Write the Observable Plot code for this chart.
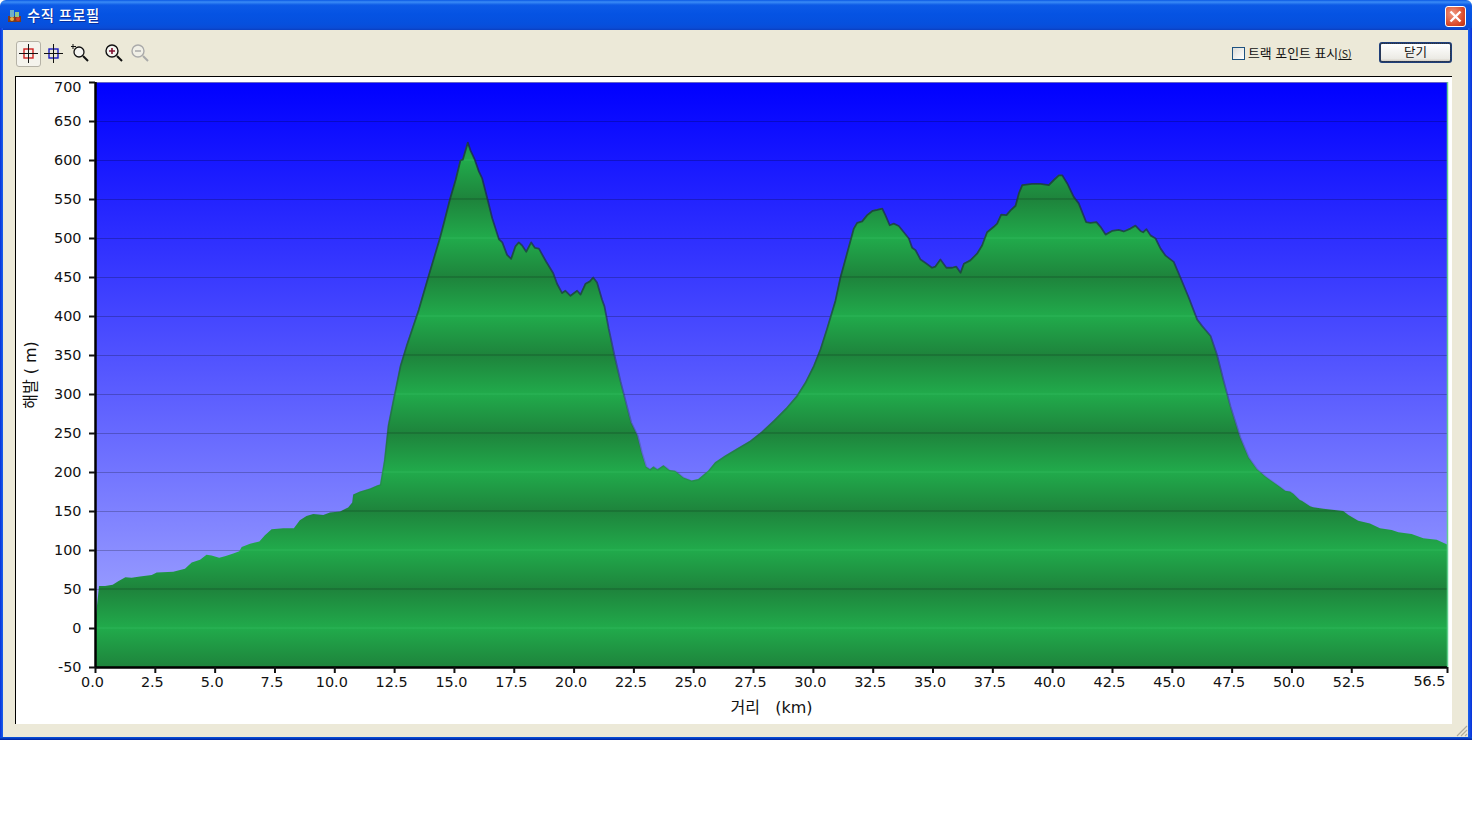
<!DOCTYPE html>
<html lang="ko">
<head>
<meta charset="utf-8">
<title>수직 프로필</title>
<script src="https://cdn.jsdelivr.net/npm/d3@7"></script>
<script src="https://cdn.jsdelivr.net/npm/@observablehq/plot@0.6"></script>
<style>
html,body{margin:0;padding:0;background:#fff;overflow:hidden}
#win{position:absolute;left:0;top:0;width:1472px;height:740px;background:#ece9d8;font-family:"Noto Sans CJK KR",sans-serif;overflow:hidden;border-radius:6px 6px 0 0}
#edgeL,#edgeR,#edgeB{position:absolute;background:#0a4fe0}
#edgeL{left:0;top:28px;width:3px;height:712px;background:linear-gradient(90deg,#0831d9,#1a62ec)}
#edgeR{left:1468px;top:28px;width:4px;height:712px;background:linear-gradient(90deg,#1a62ec,#0831d9)}
#edgeB{left:0;top:737px;width:1472px;height:3px;background:linear-gradient(180deg,#0a55e0,#00209c)}
#bar{position:absolute;left:0;top:0;width:1472px;height:30px;background:linear-gradient(180deg,#0a58e4 0,#3a8cf6 2px,#0c5ae6 5px,#0553e3 14px,#0650de 24px,#0a4cd6 28px,#0a3fc0 30px)}
#ttl{position:absolute;left:27px;top:6px;color:#fff;font-size:14.4px;line-height:18px;font-weight:500;letter-spacing:.4px;text-shadow:1px 1px 0 #0a2f9c;white-space:pre}
#appicon{position:absolute;left:7px;top:9px}
#close{position:absolute;left:1445px;top:6px;width:19px;height:19px;border:1px solid #fff;border-radius:3px;background:radial-gradient(circle at 35% 35%,#f09a80,#d9492a 65%,#b8300f)}
#close svg{position:absolute;left:2px;top:2px}
#tool1{position:absolute;left:16px;top:41px;width:23px;height:24px;border:1px solid #b5b2a6;border-radius:3px;background:#f4f3ec}
.ic{position:absolute}
#cb{position:absolute;left:1232px;top:47px;width:11px;height:11px;border:1px solid #1c5180;background:linear-gradient(135deg,#dcdcd7,#fff)}
#cbt{position:absolute;left:1248px;top:44px;font-size:12.9px;line-height:18px;color:#111;white-space:pre}
#cbt small{font-size:10.5px;text-decoration:underline}
#btn{position:absolute;left:1379px;top:42px;width:69px;height:17px;border:2px solid #1f3f7a;border-radius:3px;background:linear-gradient(180deg,#fff,#ecebe5 85%,#d6d0c5);font-size:12.5px;line-height:16px;text-align:center;color:#111;outline:1px dotted #333;outline-offset:-2px}
#panel{position:absolute;left:16px;top:77px;width:1436px;height:647px;background:#fff}
#lineT{position:absolute;left:15px;top:76px;width:1437px;height:1px;background:#000}
#lineL{position:absolute;left:15px;top:76px;width:1px;height:648px;background:#000}
#panel svg{display:block}
#grip{position:absolute;left:1455px;top:724px}
</style>
</head>
<body>
<div id="win">
  <div id="bar"></div>
  <svg id="appicon" width="15" height="14"><rect x="1" y="7" width="13" height="6" fill="#7a3b22"/><rect x="3" y="1" width="4" height="7" fill="#6fb0c8"/><rect x="8" y="3" width="4" height="5" fill="#8fc68a"/><circle cx="5" cy="10" r="2" fill="#e8b040"/><circle cx="11" cy="10" r="2" fill="#d83a2a"/></svg>
  <div id="ttl">수직 프로필</div>
  <div id="close"><svg width="15" height="15"><path d="M2.5 2.5L12.5 12.5M12.5 2.5L2.5 12.5" stroke="#fff" stroke-width="2.4"/></svg></div>
  <div id="edgeL"></div><div id="edgeR"></div><div id="edgeB"></div>
  <div id="tool1"></div>
  <svg class="ic" style="left:18px;top:43px" width="22" height="22"><rect x="6" y="6" width="9" height="9" fill="none" stroke="#d02020" stroke-width="1.4"/><path d="M10.5 1V20M1 10.500H20" stroke="#111" stroke-width="1"/></svg>
  <svg class="ic" style="left:43px;top:43px" width="22" height="22"><rect x="6" y="6" width="9" height="9" fill="none" stroke="#1a1ac0" stroke-width="1.4"/><path d="M10.5 1V20M1 10.500H20" stroke="#111" stroke-width="1"/></svg>
  <svg class="ic" style="left:70px;top:43px" width="22" height="22"><circle cx="9" cy="9" r="5" fill="#f4f4f0" stroke="#111" stroke-width="1.3"/><path d="M13 13L18 18" stroke="#111" stroke-width="2"/><path d="M3 1V6M1 3.500H6" stroke="#111" stroke-width="1"/></svg>
  <svg class="ic" style="left:103px;top:42px" width="22" height="22"><circle cx="9" cy="9" r="6" fill="#f4f4f0" stroke="#111" stroke-width="1.4"/><path d="M14 14L19 19" stroke="#111" stroke-width="2"/><path d="M9 6V12M6 9H12" stroke="#801030" stroke-width="1.6"/></svg>
  <svg class="ic" style="left:129px;top:42px" width="22" height="22"><circle cx="9" cy="9" r="6" fill="#f0efe6" stroke="#aaa" stroke-width="1.4"/><path d="M14 14L19 19" stroke="#aaa" stroke-width="2"/><path d="M6 9H12" stroke="#aaa" stroke-width="1.6"/></svg>
  <div id="cb"></div>
  <div id="cbt">트랙 포인트 표시<small>(S)</small></div>
  <div id="btn">닫기</div>
  <div id="panel"></div>
  <div id="lineT"></div><div id="lineL"></div>
  <svg id="grip" width="13" height="13"><path d="M12 2L2 12M12 6L6 12M12 10L10 12" stroke="#b0ac9c" stroke-width="1.2"/></svg>
</div>
<script>
// Distance along the track (km)
const distanceKm = [
0.04,0.17,0.42,0.74,0.97,1.27,1.53,1.88,2.37,2.58,3.27,3.76,4.04,4.39,4.66,4.87,5.19,5.43,5.78,6.03,6.13,6.48,6.87,7.10,7.38,7.87,8.31,8.56,8.84,9.12,9.54,9.82,10.24,10.58,10.75,10.79,11.07,11.49,11.80,
11.91,12.08,12.24,12.45,12.75,13.00,13.23,13.51,13.93,14.39,14.56,14.81,15.05,15.25,15.35,15.56,15.67,15.85,16.02,16.16,16.37,16.58,16.86,17.00,17.20,17.37,17.55,17.69,17.83,18.00,18.21,18.36,18.53,18.83,19.13,19.29,19.50,19.64,19.85,20.13,20.27,20.48,20.66,20.80,20.96,21.17,21.27,
21.45,21.69,21.94,22.15,22.39,22.66,22.84,23.02,23.19,23.33,23.50,23.75,24.00,24.24,24.59,24.93,25.21,25.63,25.91,26.33,26.82,27.37,27.86,28.35,28.90,29.32,29.67,30.02,30.30,30.57,30.92,
31.13,31.27,31.48,31.69,31.83,32.04,32.25,32.48,32.67,32.88,33.01,33.19,33.36,33.57,33.78,33.99,34.13,34.27,34.48,34.69,34.96,35.10,35.31,35.56,35.80,35.97,36.15,36.29,36.56,36.84,37.05,37.26,37.54,37.68,37.85,38.07,38.24,38.45,38.59,38.73,39.14,39.49,39.84,40.05,40.26,40.40,40.61,40.88,41.09,41.40,41.58,41.83,42.00,42.21,42.48,42.76,42.97,43.25,43.46,43.67,43.78,43.92,44.09,44.30,44.51,44.72,45.06,
45.34,45.69,46.04,46.25,46.60,46.87,47.15,47.43,47.85,48.20,48.55,48.90,49.31,49.52,49.74,49.94,50.08,50.35,50.43,50.78,50.91,51.33,52.16,52.38,52.79,53.28,53.70,54.19,54.47,55.02,55.51,56.07,56.46,56.50];
// Elevation at each distance (m)
const elevationM = [
16,54,54,55.5,60,65,64.5,66,68,71,72,76,84,87.5,94,93,90,92,95.5,98.5,104,108,111,119,126.5,128,128,138,143.5,146,145,148,149.5,154.5,161,171,175,179,183,
184,215,260,292,337,362,383,408.5,453,500,520,550,575,600,601,623,613,601,586,577,552,526,499,495,479,474,490,495,491,483,495,488,487,470.5,455.5,442,430,433,426.5,433,428,442,445,450,443.5,421.5,413,
384,350,317,292,264,247,225,207,203.5,207,203.5,208.5,202.5,201.5,193,189,191,202,212.5,221,230,240,252,266,283,298,315,336.5,358,384,420,
450,465.5,489,512.7,520,522,530,535.5,536.7,538.4,530,517,519,516,508,500,488,485,473,468.5,462.5,464,473,462.5,462.5,464,456,467.6,472,480.5,491,508,515,519,530.7,530,536,542,558,568.5,570,570,568.5,575,581,581,570.6,553.4,545,521,520,521,515,505,509.7,511,509,512.7,516.5,509.7,508,512,504,500,487,478,470,
450,424,396,387.6,375,351,317,285,244.5,219,204,194.5,185.5,181,176,175,172,164,163,156,154.7,153,150,145,137.6,134,128,125.6,122.6,120.5,115,113,107.7,107];

const yTicks = [-50,0,50,100,150,200,250,300,350,400,450,500,550,600,650,700];
const xTicks = [0,2.5,5,7.5,10,12.5,15,17.5,20,22.5,25,27.5,30,32.5,35,37.5,40,42.5,45,47.5,50,52.5,56.5];
const lastXTick = [56.5];
const topYTick = [700];
const xTitle = "거리\u00a0\u00a0\u00a0(km)";
const yTitle = "해발 ( m)";

const profile = distanceKm.map((d, i) => ({d, e: elevationM[i]}));

// Vertical paint servers, positioned through the plot's own y scale
function paints(index, {y}) {
  const defs = d3.create("svg:defs");
  const top = y(700), bot = y(-50);
  const grad = (id) => defs.append("linearGradient").attr("id", id)
    .attr("gradientUnits", "userSpaceOnUse").attr("x1", 0).attr("x2", 0).attr("y1", top).attr("y2", bot);
  const stop = (g, m, c, o = 1) => g.append("stop")
    .attr("offset", (y(m) - top) / (bot - top)).attr("stop-color", c).attr("stop-opacity", o);

  const bg = grad("sky");
  stop(bg, 700, "#0000ff"); stop(bg, -50, "#acb0ff");

  const g = grad("land");
  const light = "#21aa4b", dark = "#1e843c";
  for (const m of d3.range(700, -100, -50)) {
    const isLight = m % 100 === 0;
    const base = isLight ? light : dark;
    const line = isLight ? "#27b052" : "#1a7034";
    if (m < 700) stop(g, m + 0.9, base);
    stop(g, m + 0.6, line); stop(g, m - 0.6, line);
    if (m > -50) stop(g, m - 0.9, base);
  }

  const s = grad("edge");
  stop(s, 700, "#1c2c3c", 0.8); stop(s, 420, "#1c3540", 0.7);
  stop(s, 250, "#2a4a50", 0.35); stop(s, 130, "#2a4a50", 0);
  return defs.node();
}

const chart = Plot.plot({
  width: 1436, height: 647,
  marginLeft: 79, marginRight: 5, marginTop: 5, marginBottom: 57,
  style: {fontFamily: '"DejaVu Sans","Noto Sans CJK KR",sans-serif', fontSize: "14.4px", color: "#111", background: "transparent"},
  x: {domain: [0, 56.5]},
  y: {domain: [-50, 700]},
  marks: [
    paints,
    Plot.frame({fill: "url(#sky)", stroke: "none"}),
    Plot.ruleY(yTicks, {stroke: "#000", strokeOpacity: 0.22}),
    Plot.areaY(profile, {x: "d", y1: -50, y2: "e", fill: "url(#land)", curve: "linear"}),
    Plot.line(profile, {x: "d", y: "e", stroke: "url(#edge)", strokeWidth: 1.8, curve: "linear"}),
    Plot.ruleX(lastXTick, {stroke: "#62cf8e", strokeWidth: 1.5}),
    Plot.ruleX([0], {stroke: "#000", strokeWidth: 2.5}),
    Plot.ruleY([-50], {stroke: "#000", strokeWidth: 2.5}),
    Plot.axisY({
      ticks: yTicks, tickSize: 6, tickPadding: 8, strokeWidth: 2, fontSize: 14.4, label: null,
      tickFormat: (v) => (v === 700 ? "" : String(v))
    }),
    Plot.text(topYTick, {y: (d) => d, text: (d) => String(d), frameAnchor: "left", textAnchor: "end", dx: -14, dy: 5, fontSize: 14.4}),
    Plot.axisY({
      ticks: [], tickSize: 0, fontSize: 16,
      label: yTitle, labelAnchor: "center", labelArrow: "none", labelOffset: 71
    }),
    // tick marks sit on the values; their labels are set 3px to the left
    Plot.axisX({ticks: xTicks, tickSize: 6, strokeWidth: 2, tickFormat: () => "", label: null}),
    Plot.axisX({
      ticks: xTicks, tickSize: 0, tickPadding: 9, fontSize: 14.4, dx: -3, label: null,
      tickFormat: (v) => (v === 56.5 ? "" : d3.format(".1f")(v))
    }),
    Plot.text(lastXTick, {x: (d) => d, text: (d) => d3.format(".1f")(d), frameAnchor: "bottom", textAnchor: "end", dx: -2, dy: 18, fontSize: 14.4}),
    Plot.axisX({
      ticks: [], tickSize: 0, fontSize: 16, dx: -5,
      label: xTitle, labelAnchor: "center", labelArrow: "none", labelOffset: 45
    })
  ]
});
document.getElementById("panel").appendChild(chart);
</script>
</body>
</html>
